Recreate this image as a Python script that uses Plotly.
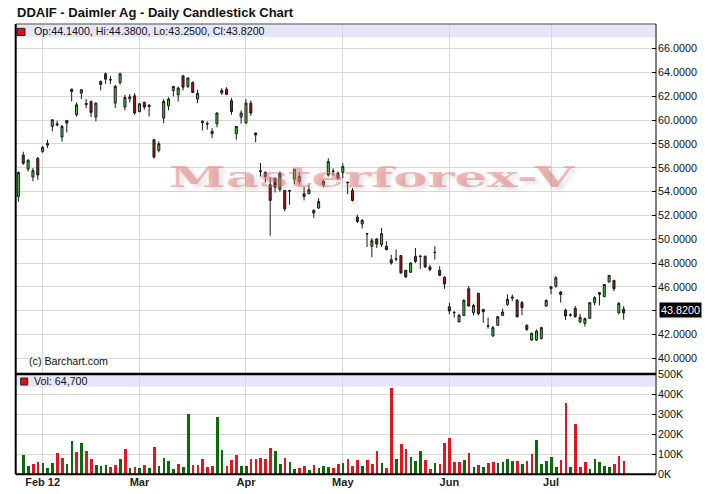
import pandas as pd
import plotly.graph_objects as go

# ---------------- data ----------------
holidays = ["2012-02-20", "2012-04-06", "2012-05-28", "2012-07-04"]
dates = [d.strftime("%Y-%m-%d") for d in pd.bdate_range("2012-01-25", "2012-07-24")
         if d.strftime("%Y-%m-%d") not in holidays]

opens = [53.6, 57.07, 55.9, 55.23, 56.8, 57.38, 57.9, 59.47, 59.6, 58.58,
         59.98, 62.4, 60.45, 62.27, 61.3, 61.57, 60.26, 63.25, 63.89, 63.4,
         61.43, 63.16, 61.1, 61.8, 62.04, 60.73, 61.49, 61.25, 58.36, 57.46,
         60.17, 61.2, 62.49, 62.13, 63.72, 62.83, 63.16, 61.77, 59.9, 59.72,
         59.05, 59.7, 62.27, 62.6, 61.63, 58.86, 60.26, 59.75, 61.43, 58.92,
         55.75, 55.63, 54.57, 55.13, 54.2, 54.1, 54.1, 55.04, 54.85, 53.82,
         53.82, 52.42, 52.62, 54.85, 55.4, 55.72, 55.55, 55.6, 54.8, 54.1,
         51.86, 51.28, 50.47, 49.41, 50.02, 49.55, 49.41, 48.29, 48.33, 48.63,
         47.4, 47.23, 48.57, 48.55, 48.57, 47.68, 48.88, 47.4, 46.81, 44.34,
         43.86, 43.06, 43.61, 45.85, 43.84, 45.46, 44.12, 42.74, 41.88, 42.78,
         43.61, 44.54, 45.05, 44.9, 44.68, 42.78, 41.55, 41.55, 41.66, 44.4,
         45.85, 46.07, 45.57, 44.06, 43.66, 44.2, 43.08, 42.94, 43.36, 44.68,
         45.37, 45.18, 46.41, 46.55, 43.84, 44.14]
highs = [55.7, 57.35, 56.75, 55.98, 56.9, 57.85, 58.36, 60.05, 59.95, 59.6,
         60.0, 62.65, 61.49, 62.6, 61.77, 61.65, 61.49, 63.33, 64.0, 63.72,
         62.97, 64.0, 62.13, 62.18, 62.27, 61.43, 61.57, 61.35, 58.4, 58.22,
         61.77, 61.93, 62.88, 62.83, 63.75, 63.6, 63.25, 62.55, 60.0, 59.9,
         59.33, 60.65, 62.69, 62.77, 61.85, 59.5, 60.82, 61.77, 61.65, 58.95,
         56.4, 55.68, 55.2, 55.15, 55.68, 54.12, 54.12, 55.9, 55.6, 54.37,
         54.57, 52.53, 53.45, 54.99, 56.8, 55.96, 55.68, 56.38, 54.82, 54.3,
         52.06, 51.7, 50.5, 50.1, 50.1, 50.94, 49.83, 48.71, 49.13, 48.65,
         47.42, 48.07, 49.27, 48.71, 48.63, 47.87, 49.41, 47.74, 46.9, 44.68,
         43.98, 43.75, 44.96, 46.07, 44.59, 45.5, 44.13, 43.42, 42.72, 43.56,
         44.17, 45.37, 45.37, 44.96, 44.82, 42.86, 42.16, 42.44, 42.66, 44.96,
         46.07, 46.91, 45.65, 44.17, 43.78, 44.4, 43.75, 43.42, 44.7, 45.23,
         45.57, 46.23, 46.99, 46.57, 44.73, 44.38]
lows = [53.15, 56.25, 55.7, 54.87, 55.0, 57.25, 57.66, 59.05, 59.47, 58.2,
        58.97, 61.57, 60.31, 61.77, 61.0, 60.26, 59.9, 62.5, 63.05, 63.05,
        61.01, 62.97, 60.82, 61.49, 60.45, 60.65, 60.88, 60.31, 56.77, 57.3,
        59.75, 60.82, 61.99, 61.57, 62.49, 62.69, 62.27, 61.43, 59.14, 59.2,
        58.5, 59.4, 62.13, 62.16, 60.45, 58.36, 59.7, 59.75, 60.37, 58.14,
        55.27, 54.76, 50.3, 53.93, 54.0, 52.34, 52.9, 54.65, 54.57, 53.26,
        53.82, 51.78, 52.56, 54.37, 55.27, 55.32, 54.99, 55.13, 53.8, 53.17,
        51.36, 50.9, 49.35, 48.49, 49.27, 49.35, 49.07, 47.87, 48.15, 47.1,
        46.76, 47.18, 48.01, 47.51, 47.6, 47.32, 48.29, 46.9, 45.84, 43.7,
        43.42, 43.06, 43.56, 44.34, 43.61, 43.61, 43.0, 42.5, 41.83, 42.78,
        43.56, 44.4, 44.82, 43.42, 43.61, 42.3, 41.46, 41.46, 41.6, 44.34,
        45.37, 45.93, 44.68, 43.22, 43.5, 43.42, 42.94, 42.66, 43.34, 44.45,
        44.45, 45.16, 46.39, 45.65, 43.7, 43.25]
closes = [55.6, 56.38, 56.63, 55.76, 55.4, 57.72, 58.05, 60.03, 59.68, 59.47,
          59.75, 62.6, 61.29, 62.55, 61.4, 60.65, 61.43, 63.0, 63.44, 63.38,
          62.83, 63.89, 61.9, 61.95, 60.6, 61.37, 61.1, 61.15, 56.9, 58.02,
          61.57, 61.77, 62.83, 62.69, 62.77, 63.53, 62.32, 62.25, 59.8, 59.68,
          58.86, 60.6, 62.49, 62.16, 60.73, 59.47, 60.6, 61.43, 60.6, 58.75,
          55.7, 55.27, 53.26, 54.37, 55.55, 52.56, 54.05, 55.88, 55.27, 53.6,
          54.15, 52.2, 53.17, 54.57, 56.52, 55.7, 55.13, 56.1, 54.75, 53.26,
          51.5, 51.58, 50.45, 49.88, 49.6, 50.47, 49.13, 48.01, 48.35, 47.18,
          46.84, 48.01, 48.15, 48.57, 47.68, 47.46, 48.9, 46.98, 46.25, 43.98,
          43.84, 43.61, 44.87, 44.4, 44.45, 43.75, 43.92, 42.72, 42.58, 43.5,
          43.89, 44.96, 45.15, 43.5, 44.26, 42.44, 42.11, 42.3, 42.58, 44.87,
          46.02, 46.77, 45.37, 43.56, 43.64, 43.5, 43.45, 43.34, 44.68, 45.1,
          45.52, 46.21, 46.97, 45.85, 44.62, 43.82]
volumes_k = [0, 96, 41, 51, 61, 56, 28, 56, 106, 81,
             51, 166, 111, 154, 116, 76, 45, 41, 45, 36,
             45, 76, 126, 31, 36, 31, 45, 31, 136, 41,
             81, 66, 27, 51, 36, 300, 45, 45, 76, 36,
             41, 285, 121, 41, 71, 96, 41, 41, 76, 76,
             81, 76, 131, 116, 51, 81, 61, 27, 31, 41,
             22, 46, 31, 41, 36, 31, 51, 56, 76, 41,
             71, 41, 71, 51, 116, 56, 31, 428, 76, 151,
             126, 86, 66, 116, 71, 27, 56, 51, 156, 181,
             61, 61, 71, 106, 36, 46, 36, 56, 61, 56,
             61, 76, 66, 66, 51, 66, 101, 171, 51, 66,
             86, 36, 71, 355, 36, 250, 36, 61, 27, 76,
             61, 41, 36, 51, 91, 64.7]

month_tick_dates = ["2012-02-01", "2012-03-01", "2012-04-02", "2012-05-01", "2012-06-01", "2012-07-02"]
month_tick_labels = ["Feb 12", "Mar", "Apr", "May", "Jun", "Jul"]
price_ticks = [40, 42, 44, 46, 48, 50, 52, 54, 56, 58, 60, 62, 64, 66]
volume_ticks = [0, 100000, 200000, 300000, 400000, 500000]
volume_tick_labels = ["0K", "100K", "200K", "300K", "400K", "500K"]

# ---------------- styling / geometry ----------------
W, H = 720, 494
def fx(x):
    return x / W
def fy(y):
    return 1 - y / H

X0, X1 = 15.7, 656.0
P_TOP, P_BOT = 24.0, 374.0
V_TOP, V_BOT = 374.3, 474.3
PX_PER_UNIT = 11.912
Y40 = 358.4
def price_at(y):
    return 40 + (Y40 - y) / PX_PER_UNIT

FONT = "Liberation Sans, Arial, sans-serif"
GRID = "#d9d9d9"
UP_VOL, DN_VOL = "#0b6b0b", "#e3161c"

volumes = [v * 1000 for v in volumes_k]
vol_colors = [UP_VOL] + [UP_VOL if closes[i] >= closes[i - 1] else DN_VOL for i in range(1, len(closes))]
last = len(closes) - 1

# the 44 label sits under the last-price box in the reference, so it is not shown
price_tick_text = ["" if abs(t - closes[last]) < 0.6 else "%.4f" % t for t in price_ticks]

fig = go.Figure()
fig.add_trace(go.Candlestick(
    x=dates, open=opens, high=highs, low=lows, close=closes,
    xaxis="x2", yaxis="y2",
    increasing=dict(line=dict(color="#1a1a1a", width=1), fillcolor="#3ccc3c"),
    decreasing=dict(line=dict(color="#1a1a1a", width=1), fillcolor="#a8141c"),
    whiskerwidth=0, showlegend=False, hoverinfo="skip",
))
fig.add_trace(go.Bar(
    x=dates, y=volumes, xaxis="x", yaxis="y", width=0.55,
    marker=dict(color=vol_colors, line=dict(width=0)),
    showlegend=False, hoverinfo="skip",
))

xcommon = dict(type="category", domain=[fx(X0), fx(X1)], range=[-0.56, 131.68],
               tickvals=month_tick_dates, ticktext=month_tick_labels,
               showgrid=True, gridcolor=GRID, gridwidth=1, zeroline=False,
               showline=False, fixedrange=True, automargin=False)

fig.update_layout(
    width=W, height=H, autosize=False,
    margin=dict(l=0, r=0, t=0, b=0, pad=0, autoexpand=False),
    paper_bgcolor="white", plot_bgcolor="rgba(0,0,0,0)",
    boxgap=0.4, bargap=0,
    font=dict(family=FONT, size=11, color="#111"),
    xaxis=dict(**xcommon, anchor="y", ticks="", ticklen=0,
               tickfont=dict(family=FONT, size=11, color="#222", weight="bold")),
    xaxis2=dict(**xcommon, anchor="y2", matches="x", showticklabels=False, ticks="",
                rangeslider=dict(visible=False)),
    yaxis=dict(domain=[fy(V_BOT), fy(V_TOP)], range=[0, 500000], side="right",
               tickvals=volume_ticks, ticktext=volume_tick_labels,
               ticks="inside", ticklen=4, tickcolor="#000", ticklabelstandoff=1,
               showgrid=True, gridcolor=GRID, zeroline=False, showline=False, automargin=False,
               tickfont=dict(family=FONT, size=10.8, color="#111"), fixedrange=True),
    yaxis2=dict(domain=[fy(P_BOT), fy(P_TOP)], range=[price_at(P_BOT), price_at(P_TOP)], side="right",
                tickvals=price_ticks, ticktext=price_tick_text,
                ticks="inside", ticklen=4, tickcolor="#000", ticklabelstandoff=1,
                showgrid=True, gridcolor=GRID, zeroline=False, showline=False, automargin=False,
                tickfont=dict(family=FONT, size=10.8, color="#111"), fixedrange=True),
)

shapes = [
    # legend bands
    dict(type="rect", xref="paper", yref="paper", x0=fx(X0), x1=fx(655), y0=fy(37.3), y1=fy(24.5),
         fillcolor="#e6e6fa", line=dict(width=0), layer="below"),
    dict(type="rect", xref="paper", yref="paper", x0=fx(X0), x1=fx(655), y0=fy(386.7), y1=fy(374.8),
         fillcolor="#e6e6fa", line=dict(width=0), layer="below"),
    # legend squares
    dict(type="rect", xref="paper", yref="paper", x0=fx(17), x1=fx(25), y0=fy(35.5), y1=fy(28.3),
         fillcolor="#e01010", line=dict(color="#222", width=1)),
    dict(type="rect", xref="paper", yref="paper", x0=fx(20.7), x1=fx(27.7), y0=fy(385), y1=fy(378),
         fillcolor="#e01010", line=dict(color="#222", width=1)),
    # frame
    dict(type="line", xref="paper", yref="paper", x0=fx(X0), x1=fx(X1), y0=fy(P_TOP), y1=fy(P_TOP),
         line=dict(color="#444", width=1)),
    dict(type="line", xref="paper", yref="paper", x0=fx(X0), x1=fx(X0), y0=fy(P_TOP), y1=fy(V_BOT),
         line=dict(color="#000", width=2)),
    dict(type="line", xref="paper", yref="paper", x0=fx(X1), x1=fx(X1), y0=fy(P_TOP), y1=fy(V_BOT),
         line=dict(color="#000", width=1)),
    dict(type="line", xref="paper", yref="paper", x0=fx(X0), x1=fx(X1), y0=fy(374), y1=fy(374),
         line=dict(color="#000", width=2.5)),
    dict(type="line", xref="paper", yref="paper", x0=fx(X0), x1=fx(X1), y0=fy(V_BOT), y1=fy(V_BOT),
         line=dict(color="#000", width=2)),
]
fig.update_layout(shapes=shapes)

annotations = [
    dict(text="DDAIF - Daimler Ag - Daily Candlestick Chart", xref="paper", yref="paper",
         x=fx(15), y=fy(12), xanchor="left", yanchor="middle", showarrow=False,
         font=dict(family=FONT, size=13, color="#111", weight="bold")),
    dict(text="Op:%.4f, Hi:%.4f, Lo:%.4f, Cl:%.4f" % (opens[last], highs[last], lows[last], closes[last]),
         xref="paper", yref="paper", x=fx(31.5), y=fy(31), xanchor="left", yanchor="middle",
         showarrow=False, font=dict(family=FONT, size=10.7, color="#111")),
    dict(text="Vol: {:,}".format(int(round(volumes[last]))), xref="paper", yref="paper",
         x=fx(31.5), y=fy(381.3), xanchor="left", yanchor="middle", showarrow=False,
         font=dict(family=FONT, size=10.7, color="#111")),
    dict(text="(c) Barchart.com", xref="paper", yref="paper", x=fx(26.5), y=fy(360.7),
         xanchor="left", yanchor="middle", showarrow=False,
         font=dict(family=FONT, size=10.7, color="#111")),
    dict(text="%.4f" % closes[last], xref="paper", yref="y2", x=fx(658.5), y=closes[last],
         xanchor="left", yanchor="middle", yshift=2.5, showarrow=False, bgcolor="#000",
         borderpad=1, font=dict(family=FONT, size=10.8, color="#fff")),
    dict(text="Masterforex-V", xref="paper", yref="paper", x=fx(371.5), y=fy(178),
         xanchor="center", yanchor="middle", showarrow=False,
         font=dict(family="DejaVu Serif", size=28, color="rgba(228,118,118,0.5)", weight="bold",
                   shadow="2px 3px 3px rgba(90,90,90,0.35)")),
]
fig.update_layout(annotations=annotations)

post = """
document.documentElement.style.margin = '0';
document.documentElement.style.padding = '0';
document.documentElement.style.overflow = 'hidden';
document.body.style.margin = '0';
document.body.style.padding = '0';
document.body.style.overflow = 'hidden';
var gd = document.getElementById('{plot_id}');
function stretchMark() {
  var ts = gd.querySelectorAll('text.annotation-text');
  ts.forEach(function (t) {
    if (t.textContent === 'Masterforex-V') {
      t.setAttribute('textLength', '405');
      t.setAttribute('lengthAdjust', 'spacingAndGlyphs');
    }
  });
}
stretchMark();
if (gd.on) { gd.on('plotly_afterplot', stretchMark); }
"""

fig.write_html("out.html", post_script=post, config={"displayModeBar": False})
